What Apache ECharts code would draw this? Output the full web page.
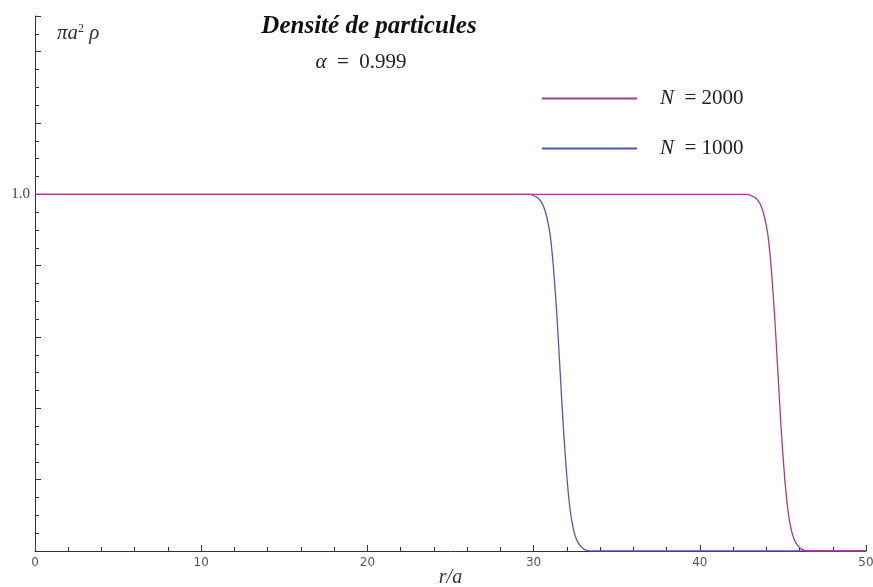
<!DOCTYPE html>
<html>
<head>
<meta charset="utf-8">
<script src="https://cdn.jsdelivr.net/npm/echarts@6/dist/echarts.min.js"></script>
<style>
    html, body { margin: 0; padding: 0; background: #fff; }
    #chart { width: 873px; height: 587px; }
</style>
</head>
<body>
<div id="chart"></div>
<script>
// density profile, N = 1000
var r1000 = [0, 10, 20, 29.8, 30.0, 30.2, 30.4, 30.6, 30.8, 31.0, 31.2, 31.4, 31.6, 31.8, 32.0, 32.2, 32.4, 32.6, 32.8, 33.0, 33.2, 33.5, 40, 50];
var rho1000 = [1, 1, 1, 1, 0.996, 0.992, 0.983, 0.966, 0.935, 0.885, 0.791, 0.661, 0.5, 0.339, 0.209, 0.115, 0.06, 0.03, 0.015, 0.006, 0.002, 0, 0, 0];

// N = 2000
var r2000 = [0, 10, 20, 30, 40, 42.9, 43.1, 43.3, 43.5, 43.7, 43.9, 44.1, 44.3, 44.5, 44.7, 44.9, 45.1, 45.3, 45.5, 45.7, 45.9, 46.1, 46.3, 46.6, 50];
var rho2000 = [1, 1, 1, 1, 1, 1, 0.996, 0.992, 0.983, 0.966, 0.935, 0.885, 0.791, 0.661, 0.5, 0.339, 0.209, 0.115, 0.06, 0.03, 0.015, 0.006, 0.002, 0, 0];

var seriesNames = ['N = 2000', 'N = 1000'];
var yLabels = [1.0];

var serif = '"Liberation Serif", "DejaVu Serif", serif';

function pairs(xs, ys) {
    var out = [];
    for (var i = 0; i < xs.length; i++) {
        out.push([xs[i], ys[i]]);
    }
    return out;
}

var chart = echarts.init(document.getElementById('chart'));

var option = {
    backgroundColor: '#fff',
    animation: false,
    grid: {
        left: 35,
        right: 7,
        top: 16,
        bottom: 36,
        containLabel: false,
        outerBoundsMode: 'none'
    },
    legend: {
        orient: 'vertical',
        left: 537,
        top: 83,
        itemGap: 29,
        itemWidth: 95,
        itemHeight: 2,
        icon: 'rect',
        data: seriesNames,
        formatter: function (name) {
            var parts = name.split(' = ');
            return '{i|' + parts[0] + '}{n|  = ' + parts[1] + '}';
        },
        textStyle: {
            padding: [0, 0, 0, 18],
            rich: {
                i: { fontFamily: serif, fontStyle: 'italic', fontSize: 21, lineHeight: 22, color: '#222' },
                n: { fontFamily: serif, fontSize: 21, lineHeight: 22, color: '#222' }
            }
        }
    },
    graphic: [
        {
            type: 'text',
            x: 369,
            y: 27,
            style: {
                text: 'Densité de particules',
                font: 'italic bold 25px ' + serif,
                align: 'center',
                verticalAlign: 'middle',
                fill: '#111'
            }
        },
        {
            type: 'text',
            x: 361,
            y: 62,
            style: {
                text: '{a|α}{b|  =  0.999}',
                align: 'center',
                verticalAlign: 'middle',
                rich: {
                    a: { fontFamily: serif, fontStyle: 'italic', fontSize: 21, fill: '#222' },
                    b: { fontFamily: serif, fontSize: 21, fill: '#222' }
                }
            }
        },
        {
            type: 'text',
            x: 57,
            y: 33,
            style: {
                text: '{m|πa}{s|2}{m| ρ}',
                verticalAlign: 'middle',
                rich: {
                    m: { fontFamily: serif, fontStyle: 'italic', fontSize: 21, fill: '#333', verticalAlign: 'bottom' },
                    s: { fontFamily: serif, fontSize: 12, fill: '#333', verticalAlign: 'top' }
                }
            }
        }
    ],
    xAxis: {
        type: 'value',
        min: 0,
        max: 50,
        interval: 10,
        name: 'r/a',
        nameLocation: 'middle',
        nameGap: 17,
        nameMoveOverlap: false,
        nameTextStyle: {
            fontFamily: serif,
            fontStyle: 'italic',
            fontSize: 20,
            color: '#333'
        },
        splitLine: { show: false },
        axisLine: { lineStyle: { color: '#333', width: 1 } },
        axisTick: { inside: true, length: 6, lineStyle: { color: '#333' } },
        minorTick: { show: true, splitNumber: 5, length: 4, lineStyle: { color: '#333' } },
        axisLabel: {
            margin: 6,
            fontFamily: '"DejaVu Sans", sans-serif',
            fontSize: 12,
            color: '#555'
        }
    },
    yAxis: {
        type: 'value',
        min: 0,
        max: 1.5,
        interval: 0.2,
        splitLine: { show: false },
        axisLine: { show: true, lineStyle: { color: '#333', width: 1 } },
        axisTick: { show: true, inside: true, length: 6, lineStyle: { color: '#333' } },
        minorTick: { show: true, splitNumber: 4, length: 4, lineStyle: { color: '#333' } },
        axisLabel: {
            margin: 5,
            fontFamily: serif,
            fontSize: 15,
            color: '#444',
            formatter: function (val) {
                for (var i = 0; i < yLabels.length; i++) {
                    if (Math.abs(val - yLabels[i]) < 1e-6) {
                        return yLabels[i].toFixed(1);
                    }
                }
                return '';
            }
        }
    },
    series: [
        {
            name: seriesNames[1],
            type: 'line',
            smooth: 0.25,
            showSymbol: false,
            symbol: 'none',
            color: '#5058b4',
            lineStyle: { width: 1.3, color: '#5058b4' },
            data: pairs(r1000, rho1000)
        },
        {
            name: seriesNames[0],
            type: 'line',
            smooth: 0.25,
            showSymbol: false,
            symbol: 'none',
            color: '#a53b8c',
            lineStyle: { width: 1.3, color: '#a53b8c' },
            data: pairs(r2000, rho2000)
        }
    ]
};

chart.setOption(option);
</script>
</body>
</html>
